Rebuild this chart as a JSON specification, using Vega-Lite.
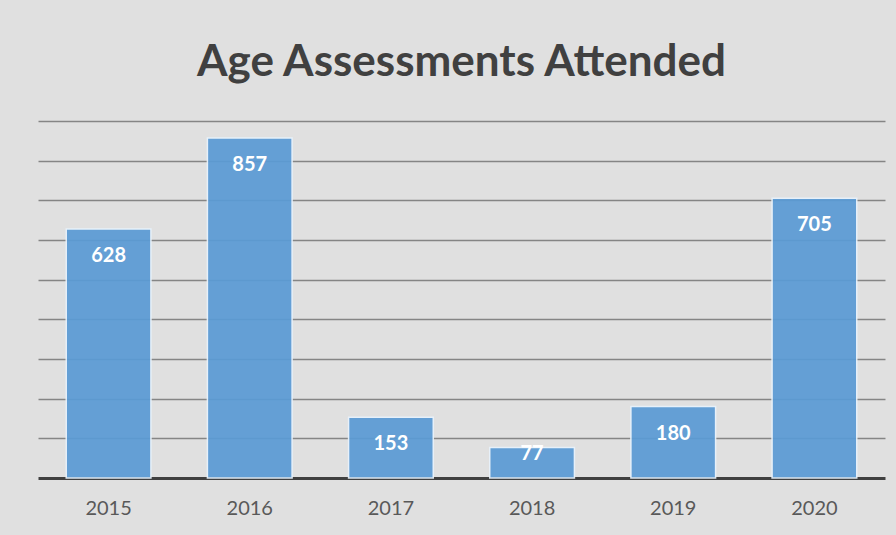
{
  "$schema": "https://vega.github.io/schema/vega-lite/v6.json",
  "width": 847,
  "height": 357,
  "autosize": {"type": "none"},
  "padding": {"left": 38, "top": 121, "right": 11, "bottom": 57},
  "background": "#e0e0e0",
  "title": {
    "text": "Age Assessments Attended",
    "anchor": "middle",
    "font": "Lato",
    "fontSize": 44,
    "fontWeight": "bold",
    "color": "#404040",
    "offset": 36
  },
  "config": {
    "view": {"stroke": null},
    "font": "Lato"
  },
  "data": {
    "values": [
      {"year": "2015", "value": 628},
      {"year": "2016", "value": 857},
      {"year": "2017", "value": 153},
      {"year": "2018", "value": 77},
      {"year": "2019", "value": 180},
      {"year": "2020", "value": 705}
    ]
  },
  "encoding": {
    "x": {
      "field": "year",
      "type": "nominal",
      "scale": {"paddingInner": 0.4, "paddingOuter": 0.2},
      "axis": {
        "title": null,
        "labelAngle": 0,
        "labelFontSize": 20,
        "labelColor": "#595959",
        "labelPadding": 20,
        "ticks": false,
        "domainColor": "#404040",
        "domainWidth": 3,
        "grid": false
      }
    },
    "y": {
      "field": "value",
      "type": "quantitative",
      "scale": {"domain": [0, 900], "nice": false},
      "axis": {
        "title": null,
        "labels": false,
        "ticks": false,
        "domain": false,
        "values": [100, 200, 300, 400, 500, 600, 700, 800, 900],
        "gridColor": "#858585",
        "gridWidth": 1.3
      }
    }
  },
  "layer": [
    {
      "mark": {"type": "bar", "color": "#5b9bd5", "opacity": 0.93, "stroke": "#e8f2fb", "strokeWidth": 1.5}
    },
    {
      "transform": [{"filter": "datum.value >= 100"}],
      "mark": {"type": "text", "baseline": "middle", "align": "center", "color": "white", "fontSize": 20, "fontWeight": "bold", "dy": 27},
      "encoding": {
        "text": {"field": "value", "type": "quantitative"}
      }
    },
    {
      "transform": [{"filter": "datum.value < 100"}],
      "mark": {"type": "text", "baseline": "middle", "align": "center", "color": "white", "fontSize": 20, "fontWeight": "bold", "dy": 7},
      "encoding": {
        "text": {"field": "value", "type": "quantitative"}
      }
    }
  ]
}
